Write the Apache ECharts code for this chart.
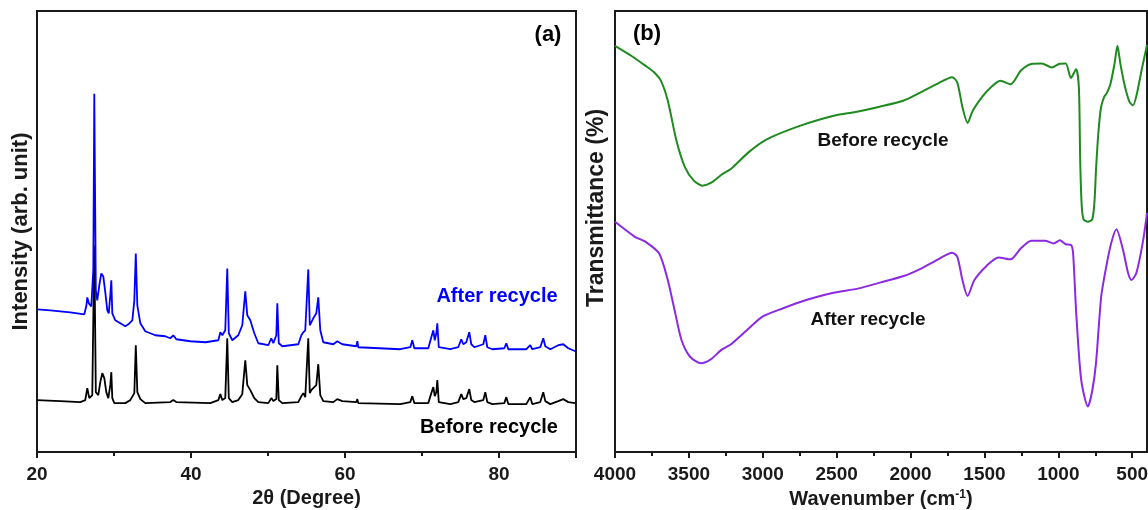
<!DOCTYPE html>
<html>
<head>
<meta charset="utf-8">
<script src="https://cdn.jsdelivr.net/npm/echarts@6/dist/echarts.min.js"></script>
<style>
  html, body { margin: 0; padding: 0; background: #fff; }
  #chart { width: 1148px; height: 510px; }
</style>
</head>
<body>
<div id="chart"></div>
<script>
// (a) XRD patterns: [2θ (degree), intensity (a.u.)]
const xrdBefore = [
  [20.0, 52], [23.03, 51], [25.62, 50], [26.27, 52], [26.53, 64], [26.79, 54], [27.18, 57], [27.44, 207],
  [27.64, 60], [27.96, 57], [28.22, 70], [28.48, 79], [28.74, 74], [29.0, 60], [29.26, 54], [29.52, 67],
  [29.65, 80], [29.78, 54], [30.04, 49], [31.47, 49], [32.12, 52], [32.64, 59], [32.83, 107], [33.03, 60],
  [33.42, 53], [34.06, 49], [37.31, 50], [37.7, 52], [38.09, 50], [42.51, 49], [43.55, 52], [43.81, 58],
  [44.07, 52], [44.45, 54], [44.71, 114], [44.91, 54], [45.36, 50], [46.14, 52], [46.66, 58], [47.05, 92],
  [47.31, 67], [47.7, 62], [48.22, 54], [48.74, 50], [50.04, 49], [50.43, 54], [50.69, 51], [51.08, 53],
  [51.21, 87], [51.4, 52], [51.86, 49], [53.94, 50], [54.33, 56], [54.58, 59], [54.84, 55], [55.23, 114],
  [55.43, 59], [55.62, 62], [55.88, 64], [56.27, 67], [56.53, 88], [56.79, 57], [57.18, 51], [58.48, 50],
  [59.0, 53], [59.65, 51], [61.47, 50], [61.6, 53], [61.73, 49], [67.18, 48], [68.48, 50], [68.74, 56],
  [69.0, 49], [70.82, 49], [71.21, 59], [71.47, 65], [71.66, 56], [71.86, 60], [71.99, 72], [72.18, 50],
  [73.67, 48], [74.71, 50], [75.1, 58], [75.36, 53], [75.75, 54], [76.14, 63], [76.4, 52], [76.79, 50],
  [77.96, 52], [78.22, 60], [78.48, 50], [79.13, 48], [80.69, 49], [80.95, 55], [81.21, 48], [83.55, 48],
  [84.06, 55], [84.32, 48], [85.36, 50], [85.75, 60], [86.01, 51], [86.66, 48], [87.7, 51], [88.35, 53],
  [89.0, 50], [89.91, 49]
];

const xrdAfter = [
  [20.0, 143], [21.73, 142], [24.32, 140], [26.14, 138], [26.4, 146], [26.53, 155], [26.73, 149], [27.05, 146],
  [27.31, 182], [27.44, 359], [27.64, 162], [27.83, 152], [28.09, 167], [28.35, 179], [28.61, 176], [28.87, 160],
  [29.13, 142], [29.32, 139], [29.52, 157], [29.65, 172], [29.78, 139], [30.17, 132], [30.82, 129], [31.47, 126],
  [31.86, 128], [32.38, 132], [32.64, 152], [32.83, 199], [33.03, 147], [33.42, 129], [34.06, 121], [35.36, 117],
  [36.66, 116], [37.31, 114], [37.7, 117], [38.09, 113], [39.91, 111], [41.86, 110], [43.55, 112], [43.81, 120],
  [44.07, 117], [44.45, 122], [44.71, 184], [44.91, 119], [45.36, 112], [46.14, 117], [46.66, 127], [47.05, 161],
  [47.31, 137], [47.7, 132], [48.22, 119], [48.74, 109], [50.04, 107], [50.43, 114], [50.69, 109], [51.08, 117],
  [51.21, 149], [51.4, 109], [51.86, 106], [53.94, 108], [54.33, 117], [54.58, 120], [54.84, 122], [55.23, 183],
  [55.43, 127], [55.62, 130], [55.88, 134], [56.27, 139], [56.53, 155], [56.79, 122], [57.18, 110], [58.48, 108],
  [59.0, 111], [59.65, 108], [61.47, 106], [61.6, 111], [61.73, 105], [67.18, 103], [68.48, 105], [68.74, 112],
  [69.0, 104], [70.82, 104], [71.21, 115], [71.47, 122], [71.66, 112], [71.86, 119], [71.99, 129], [72.18, 105],
  [73.67, 103], [74.71, 105], [75.1, 113], [75.36, 108], [75.75, 110], [76.14, 120], [76.4, 108], [76.79, 105],
  [77.96, 108], [78.22, 117], [78.48, 105], [79.13, 103], [80.69, 104], [80.95, 109], [81.21, 103], [83.55, 103],
  [84.06, 107], [84.32, 103], [85.36, 105], [85.75, 114], [86.01, 106], [86.66, 103], [87.7, 107], [88.35, 108],
  [89.0, 104], [89.91, 101]
];

// (b) FTIR spectra: [wavenumber (cm-1), transmittance (%)]
const ftirBefore = [
  [4000, 92.1], [3888, 89.8], [3795, 87.6], [3736, 86.1], [3690, 84.2], [3643, 79.7], [3585, 70.7], [3527, 64.6],
  [3468, 61.6], [3410, 60.4], [3352, 61.0], [3282, 62.8], [3212, 64.3], [3095, 68.0], [2979, 70.8], [2745, 74.0],
  [2512, 76.3], [2372, 77.1], [2209, 78.3], [2046, 79.7], [1929, 81.6], [1813, 83.6], [1719, 85.0], [1684, 83.8],
  [1649, 78.2], [1614, 74.6], [1579, 77.4], [1509, 80.8], [1463, 82.5], [1393, 84.2], [1323, 83.4], [1253, 86.5],
  [1183, 88.0], [1113, 88.1], [1043, 87.2], [996, 88.0], [950, 88.1], [915, 84.8], [880, 86.8], [861, 82.7],
  [852, 66], [842, 56], [830, 52.8], [800, 52.2], [770, 52.8], [755, 57], [745, 64], [730, 72], [712, 78],
  [690, 80.5], [670, 81.5], [647, 83.5], [620, 88], [600, 92.1], [580, 88], [553, 83.4], [520, 79.5],
  [495, 78.6], [470, 81], [437, 86.5], [400, 92.3]
];

const ftirAfter = [
  [4000, 52.2], [3865, 48.8], [3795, 47.7], [3701, 45.0], [3643, 39.0], [3597, 32.2], [3550, 25.4], [3492, 21.6],
  [3417, 20.1], [3352, 21.0], [3282, 23.1], [3212, 24.5], [3095, 28.0], [3002, 30.7], [2862, 32.6], [2722, 34.3],
  [2536, 36.0], [2349, 37.1], [2209, 38.4], [2046, 39.9], [1929, 41.6], [1813, 43.7], [1719, 45.2], [1684, 44.3],
  [1649, 39.0], [1614, 35.4], [1568, 39.0], [1486, 42.2], [1405, 44.1], [1323, 43.7], [1253, 46.2], [1183, 47.9],
  [1090, 47.9], [1031, 47.3], [990, 48.0], [950, 47.1], [913, 46.9], [900, 45], [879, 31.5], [845, 16.3],
  [800, 10.3], [770, 14], [745, 20.2], [710, 35.2], [676, 42], [642, 47.4], [607, 50.5], [562, 45.8],
  [528, 40.6], [505, 39], [472, 40.6], [426, 48], [400, 54.2]
];

// Axis tick positions
const xrdTicks = { min: 20, max: 90, step: 20 };
const ftirRange = { min: 400, max: 4000 };
const ftirMajorTicks = [4000, 3500, 3000, 2500, 2000, 1500, 1000, 500];
const ftirMinorTicks = [3750, 3250, 2750, 2250, 1750, 1250, 750];

const FONT = '"Liberation Sans", Arial, sans-serif';
const INK = '#1a1a1a';

const labelStyle = { fontSize: 19, fontWeight: 'bold', color: INK, fontFamily: FONT, formatter: v => String(v) };
const nameStyle = { fontSize: 20, fontWeight: 'bold', color: INK, fontFamily: FONT };
const lineAxis = { show: true, lineStyle: { color: INK, width: 2 } };

const chart = echarts.init(document.getElementById('chart'), null, { renderer: 'canvas' });

chart.setOption({
  animation: false,
  backgroundColor: '#fff',
  grid: [
    { left: 37, top: 11, width: 539, height: 441, outerBoundsMode: 'none', containLabel: false,
      show: true, borderColor: INK, borderWidth: 2, backgroundColor: 'transparent' },
    { left: 615, top: 11, width: 532, height: 441, outerBoundsMode: 'none', containLabel: false,
      show: true, borderColor: INK, borderWidth: 2, backgroundColor: 'transparent' }
  ],
  xAxis: [
    {
      type: 'value', gridIndex: 0, position: 'bottom',
      min: xrdTicks.min, max: xrdTicks.max, interval: xrdTicks.step,
      axisLine: lineAxis,
      axisTick: { show: true, inside: false, length: 6, lineStyle: { color: INK, width: 2 } },
      minorTick: { show: true, splitNumber: 2, length: 4, lineStyle: { color: INK, width: 2 } },
      splitLine: { show: false },
      axisLabel: Object.assign({ margin: 13, showMaxLabel: false }, labelStyle),
      name: '2θ (Degree)', nameLocation: 'middle', nameGap: 31, nameTextStyle: nameStyle
    },
    {
      type: 'value', gridIndex: 1, position: 'bottom',
      min: ftirRange.min, max: ftirRange.max, inverse: true,
      axisLine: lineAxis,
      axisTick: { show: true, inside: false, length: 6, customValues: ftirMajorTicks, lineStyle: { color: INK, width: 2 } },
      splitLine: { show: false },
      axisLabel: Object.assign({ margin: 13, customValues: ftirMajorTicks }, labelStyle),
      name: 'Wavenumber (cm{sup|-1})', nameLocation: 'middle', nameGap: 31,
      nameTextStyle: Object.assign({
        rich: { sup: { fontSize: 12, fontWeight: 'bold', color: INK, fontFamily: FONT, verticalAlign: 'top', padding: [0, 0, 10, 0] } }
      }, nameStyle)
    },
    {
      type: 'value', gridIndex: 1, position: 'bottom', offset: 0,
      min: ftirRange.min, max: ftirRange.max, inverse: true,
      axisLine: { show: false },
      axisTick: { show: true, inside: false, length: 4, customValues: ftirMinorTicks, lineStyle: { color: INK, width: 2 } },
      axisLabel: { show: false },
      splitLine: { show: false }
    }
  ],
  yAxis: [
    {
      type: 'value', gridIndex: 0, min: 0, max: 442,
      axisLine: lineAxis, axisTick: { show: false }, axisLabel: { show: false }, splitLine: { show: false },
      name: 'Intensity (arb. unit)', nameLocation: 'middle', nameGap: 5, nameRotate: 90,
      nameTextStyle: Object.assign({}, nameStyle, { fontSize: 22 })
    },
    {
      type: 'value', gridIndex: 1, min: 0, max: 100,
      axisLine: lineAxis, axisTick: { show: false }, axisLabel: { show: false }, splitLine: { show: false }
    }
  ],
  series: [
    {
      name: 'Before recycle', type: 'line', xAxisIndex: 0, yAxisIndex: 0,
      data: xrdBefore, showSymbol: false, lineStyle: { color: '#000', width: 1.8 }, z: 2
    },
    {
      name: 'After recycle', type: 'line', xAxisIndex: 0, yAxisIndex: 0,
      data: xrdAfter, showSymbol: false, lineStyle: { color: '#0000ff', width: 1.8 }, z: 3
    },
    {
      name: 'Before recycle', type: 'line', xAxisIndex: 1, yAxisIndex: 1,
      data: ftirBefore, showSymbol: false, smooth: 0.25, lineStyle: { color: '#1f8a1f', width: 2 }
    },
    {
      name: 'After recycle', type: 'line', xAxisIndex: 1, yAxisIndex: 1,
      data: ftirAfter, showSymbol: false, smooth: 0.25, lineStyle: { color: '#8a2be2', width: 2 }
    }
  ],
  graphic: [
    // y-axis title of panel (b), sitting a little above the panel's middle
    { type: 'text', x: 597, y: 208, rotation: Math.PI / 2,
      style: { text: 'Transmittance (%)', font: 'bold 23px ' + FONT, fill: INK, textAlign: 'center', textVerticalAlign: 'middle' } },
    { type: 'text', x: 548, y: 35, style: { text: '(a)', font: 'bold 22px ' + FONT, fill: '#000', textAlign: 'center', textVerticalAlign: 'middle' } },
    { type: 'text', x: 647, y: 34, style: { text: '(b)', font: 'bold 22px ' + FONT, fill: '#000', textAlign: 'center', textVerticalAlign: 'middle' } },
    { type: 'text', x: 497, y: 296, style: { text: 'After recycle', font: 'bold 20px ' + FONT, fill: '#0000ff', textAlign: 'center', textVerticalAlign: 'middle' } },
    { type: 'text', x: 489, y: 427, style: { text: 'Before recycle', font: 'bold 20px ' + FONT, fill: '#000', textAlign: 'center', textVerticalAlign: 'middle' } },
    { type: 'text', x: 883, y: 141, style: { text: 'Before recycle', font: 'bold 19px ' + FONT, fill: '#111', textAlign: 'center', textVerticalAlign: 'middle' } },
    { type: 'text', x: 868, y: 320, style: { text: 'After recycle', font: 'bold 19px ' + FONT, fill: '#111', textAlign: 'center', textVerticalAlign: 'middle' } }
  ]
});
</script>
</body>
</html>
